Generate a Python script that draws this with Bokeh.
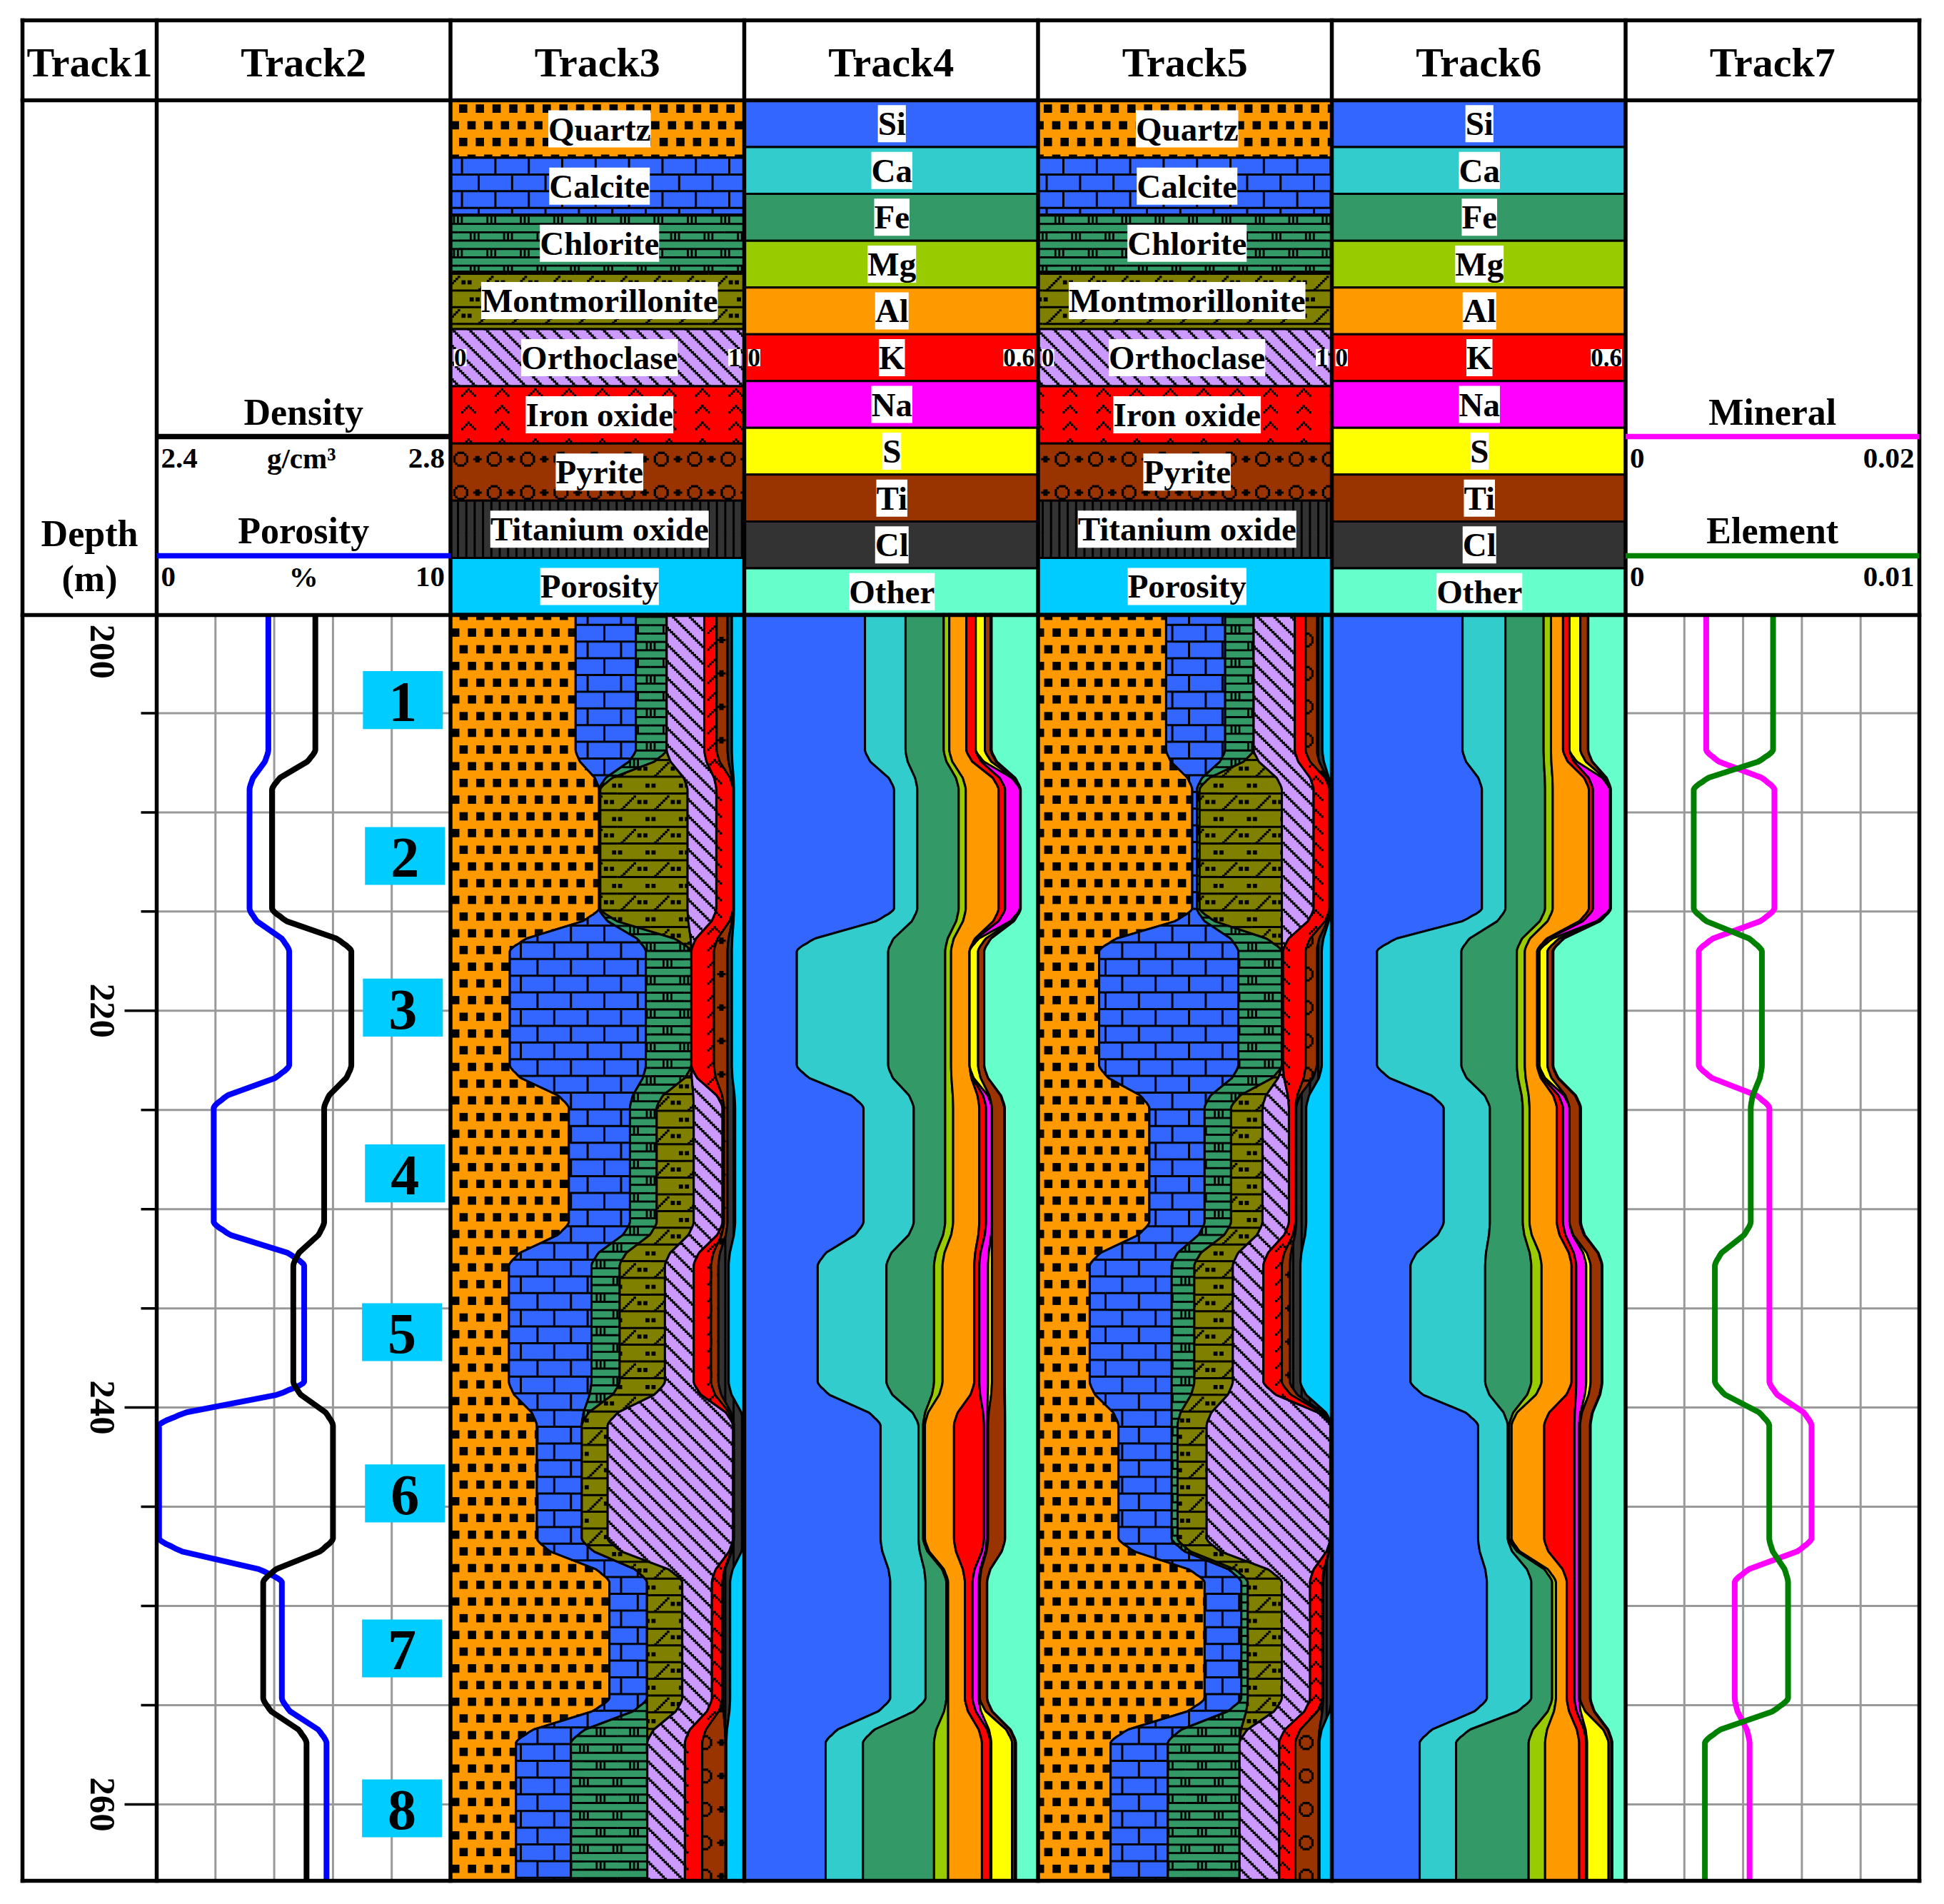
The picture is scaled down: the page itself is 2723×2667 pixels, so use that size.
import math
import numpy as np
from bokeh.plotting import figure
from bokeh.models import Range1d
from bokeh.core.properties import value
from bokeh.embed import file_html
from bokeh.resources import INLINE

# ---------- data (values per depth zone, cumulative fractions of the track) ----------
ZONE_NAMES = ["1", "2", "3", "4", "5", "6", "7", "8"]
ZONE_CENTER_DEPTH = [204.34, 212.2, 219.84, 228.2, 236.2, 244.33, 252.14, 260.2]
ZONE_BOX_X = [8.38, 8.45, 8.38, 8.45, 8.35, 8.45, 8.35, 8.35]
TRANSITIONS = [(206.85, 208.85), (214.85, 217.0), (222.75, 224.9), (230.65, 232.85),
               (238.7, 240.9), (246.6, 248.8), (254.65, 256.9)]
TOP_DEPTH = 200.0
BOTTOM_DEPTH = 263.85

POROSITY = [3.80, 3.16, 4.51, 1.94, 5.02, 0.08, 4.26, 5.78]
DENSITY = [2.616, 2.557, 2.665, 2.628, 2.586, 2.640, 2.545, 2.604]
MINERAL = [.00549, .01013, .00498, .00979, .00979, .01266, .00743, .00844]
ELEMENT = [.00502, .00232, .00464, .00426, .00304, .00489, .00553, .00270]

T3_QUARTZ = [.426, .506, .202, .403, .199, .294, .541, .223]
T3_CALCITE = [.631, .506, .665, .611, .480, .447, .669, .410]
T3_CHLORITE = [.736, .510, .820, .702, .576, .447, .669, .670]
T3_MONT = [.736, .807, .820, .828, .730, .535, .789, .670]
T3_ORTH = [.864, .905, .820, .926, .828, .962, .890, .798]
T3_IRON = [.906, .962, .897, .931, .887, .962, .926, .857]
T3_PYRITE = [.943, .962, .943, .943, .912, .965, .928, .936]
T3_TI = [.958, .965, .958, .969, .947, 1.0, .952, .939]

T5_QUARTZ = [.436, .525, .208, .379, .176, .274, .567, .247]
T5_CALCITE = [.637, .541, .682, .567, .455, .455, .692, .442]
T5_CHLORITE = [.734, .550, .830, .657, .532, .475, .714, .686]
T5_MONT = [.734, .830, .830, .764, .663, .574, .830, .686]
T5_ORTH = [.874, .938, .834, .854, .767, .995, .926, .821]
T5_IRON = [.911, .992, .911, .876, .830, .995, .968, .876]
T5_PYRITE = [.949, .993, .949, .879, .857, .996, .971, .955]
T5_TI = [.968, .995, .966, .913, .893, 1.0, 1.0, .958]

T4_SI = [.411, .510, .179, .406, .250, .464, .497, .277]
T4_CA = [.549, .589, .490, .577, .484, .593, .617, .404]
T4_FE = [.679, .730, .684, .684, .646, .609, .688, .646]
T4_MG = [.698, .754, .704, .711, .675, .615, .694, .694]
T4_AL = [.756, .866, .767, .800, .783, .714, .751, .809]
T4_K = [.788, .888, .767, .823, .800, .816, .777, .838]
T4_NA = [.788, .938, .767, .843, .830, .826, .798, .841]
T4_S = [.819, .938, .796, .843, .843, .830, .802, .912]
T4_TI = [.839, .939, .817, .885, .885, .888, .826, .922]
T4_CL = [.842, .941, .817, .887, .887, .888, .827, .925]

T6_SI = [.445, .511, .154, .381, .268, .498, .528, .299]
T6_CA = [.591, .591, .441, .538, .522, .599, .679, .423]
T6_FE = [.721, .726, .630, .650, .679, .604, .750, .670]
T6_MG = [.746, .752, .657, .673, .714, .612, .763, .726]
T6_AL = [.787, .875, .699, .766, .816, .723, .800, .842]
T6_K = [.809, .889, .703, .787, .832, .826, .826, .866]
T6_NA = [.809, .946, .707, .809, .866, .842, .842, .869]
T6_S = [.846, .947, .734, .809, .881, .845, .845, .942]
T6_TI = [.872, .948, .752, .845, .919, .879, .879, .952]
T6_CL = [.873, .950, .754, .848, .921, .881, .881, .955]

MINERAL_NAMES = ["Quartz", "Calcite", "Chlorite", "Montmorillonite", "Orthoclase",
                 "Iron oxide", "Pyrite", "Titanium oxide", "Porosity"]
MINERAL_COLORS = ["#FF9900", "#3366FF", "#339966", "#808000", "#CC99FF",
                  "#FF0000", "#993300", "#333333", "#00CCFF"]
ELEMENT_NAMES = ["Si", "Ca", "Fe", "Mg", "Al", "K", "Na", "S", "Ti", "Cl", "Other"]
ELEMENT_COLORS = ["#3366FF", "#33CCCC", "#339966", "#99CC00", "#FF9900", "#FF0000",
                  "#FF00FF", "#FFFF00", "#993300", "#333333", "#66FFCC"]
TRACK_TITLES = ["Track1", "Track2", "Track3", "Track4", "Track5", "Track6", "Track7"]
DEPTH_LABELS = ["200", "220", "240", "260"]
DEPTH_LABEL_POS = [201.9, 220, 240, 260]
DEPTH_TICKS = [205, 210, 215, 220, 225, 230, 235, 240, 245, 250, 255, 260]
GRID_V = [2, 4, 6, 8]

# ---------- layout (image pixels) ----------
W, H = 2707, 2651
TX = [31, 219, 630.5, 1042, 1453.5, 1865, 2276.5, 2688]
Y_TOP, Y_HEAD, Y_DATA, Y_BOT = 28, 140, 861, 2634
DEPTH_Y0 = 859.5
PX_PER_M = 27.79
LEFT, RIGHT = 0, W
TOP, BOTTOM = 0, H

p = figure(width=W, height=H, output_backend="svg", toolbar_location=None,
           x_range=Range1d(LEFT, RIGHT), y_range=Range1d(BOTTOM, TOP),
           x_axis_location=None, y_axis_location=None, min_border=0,
           outline_line_color=None, background_fill_color="white")
p.grid.visible = False


def xrange_for(i, v0, v1):
    l, r = TX[i], TX[i + 1]
    k = (v1 - v0) / (r - l)
    return Range1d(v0 + (LEFT - l) * k, v0 + (RIGHT - l) * k)


p.extra_x_ranges = {
    "t2": xrange_for(1, 0, 10), "density": xrange_for(1, 2.4, 2.8),
    "t3": xrange_for(2, 0, 1), "t4": xrange_for(3, 0, 1),
    "t5": xrange_for(4, 0, 1), "t6": xrange_for(5, 0, 1),
    "mineral": xrange_for(6, 0, .02), "element": xrange_for(6, 0, .01),
    "t7": xrange_for(6, 0, 10),
}
p.extra_y_ranges = {"depth": Range1d(200 + (BOTTOM - DEPTH_Y0) / PX_PER_M, 200 + (TOP - DEPTH_Y0) / PX_PER_M)}

# bend profile of the rounded step between zones (drawing style of the curves)
BEND_T = [0, .04, .08, .13, .18, .24, .3, .7, .76, .82, .87, .92, .96, 1]
BEND_F = [0, .01, .03, .06, .10, .14, .19, .81, .86, .90, .94, .97, .99, 1]


def curve(z):
    d, v = [TOP_DEPTH], [z[0]]
    for i, (a, b) in enumerate(TRANSITIONS):
        for t, f in zip(BEND_T, BEND_F):
            d.append(a + t * (b - a))
            v.append(z[i] + f * (z[i + 1] - z[i]))
    d.append(BOTTOM_DEPTH)
    v.append(z[-1])
    return d, v


# ---------- hatch textures, built from small black rectangles ----------
P, HP, QP, U = 46.8, 23.4, 11.7, 2.925


def build_prims():
    pr = {}
    pr["quartz"] = [(x - 5.8, y - 5.8, 11.6, 11.6) for x, y in
                    [(0, 0), (HP, 0), (-QP, HP), (QP, HP)]]
    pr["calcite"] = [(0, -1.5, P, 3), (0, HP - 1.5, P, 3), (-1.5, -HP, 3, HP), (HP - 1.5, 0, 3, HP)]
    chl = [(0, k * QP + 5.85 - 1.45, P, 2.9) for k in range(4)]
    for cx, cy in ((0, 0), (HP, HP)):
        for d in (-5.5, 0, 5.5):
            chl.append((cx + d - 1.4, cy - 5, 2.8, 10))
    pr["chlorite"] = chl
    mont = [(0, 10.9 - 1.5, P, 3), (0, 34.3 - 1.5, P, 3)]
    for cx, cy in ((0, 0), (-11.4, 22.9)):
        for d in (-4.2, 4.2):
            mont.append((cx + d - 2.9, cy - 2.9, 5.8, 5.8))
    for k in range(7):
        mont.append((5.4 + k * U - .2, 31.2 - k * U, 1.3 * U, U + .3))
    pr["mont"] = mont
    orth = []
    for k in range(16):
        orth.append((k * U, k * U, 1.5 * U, U + .3))
        orth.append((k * U + HP, k * U, 1.5 * U, U + .3))
    pr["orth"] = orth
    iron = []
    for y0 in (0, HP):
        for k in range(4):
            iron.append((k * U - U / 2, y0 + k * U, U + .3, U + .3))
            iron.append((-k * U - U / 2, y0 + k * U, U + .3, U + .3))
    pr["iron"] = iron
    pyr = [(-6, -1.5, 12, 3), (-3, -4.5, 6, 9)]
    cx = HP
    pyr += [(cx - 5, -10.5, 10, 3.3), (cx - 5, 7.2, 10, 3.3), (cx - 10.5, -5, 3.3, 10), (cx + 7.2, -5, 3.3, 10),
            (cx - 8, -8, 3.4, 3.4), (cx + 4.6, -8, 3.4, 3.4), (cx - 8, 4.6, 3.4, 3.4), (cx + 4.6, 4.6, 3.4, 3.4)]
    pr["pyrite"] = pyr
    pr["ti"] = [(k * QP - 1.5, 0, 3, P) for k in range(4)]
    return pr


PRIMS = build_prims()
ANCHOR_CURVE = {"quartz": (660.6, 885.6), "calcite": (846, 898.2), "chlorite": (911, 904.5),
                "mont": (863.9, 1146.8), "orth": (78, 0), "iron": (672.7, 548),
                "pyrite": (1010, 896), "ti": (641, 0)}
ANCHOR_LEGEND = {"quartz": (660, 175), "calcite": (670, 267.3), "chlorite": (687.7, 307.3),
                 "mont": (664.4, 372.1), "orth": (195, 0), "iron": (655.7, 543.3),
                 "pyrite": (668.3, 642.7), "ti": (641, 0)}
HATCH_KEYS = ["quartz", "calcite", "chlorite", "mont", "orth", "iron", "pyrite", "ti", None]


def hatch_rects(key, anchor, box, L, R):
    xl, xr, yt, yb = box
    ax, ay = anchor
    out = ([], [], [], [])

    def add(a, b, c, d):
        out[0].append(round(a, 2)); out[1].append(round(b, 2)); out[2].append(round(c, 2)); out[3].append(round(d, 2))

    for i in range(math.floor((xl - ax) / P) - 2, math.ceil((xr - ax) / P) + 2):
        for j in range(math.floor((yt - ay) / P) - 2, math.ceil((yb - ay) / P) + 2):
            for px, py, w, h in PRIMS[key]:
                x0 = ax + i * P + px
                x1 = x0 + w
                if x1 <= xl or x0 >= xr:
                    continue
                y0 = max(ay + j * P + py, yt)
                y1 = min(ay + j * P + py + h, yb)
                if y1 <= y0:
                    continue
                lo = L[int(y0):int(y1) + 2]
                hi = R[int(y0):int(y1) + 2]
                if x0 >= lo.max() and x1 <= hi.min():
                    add(x0, x1, y0, y1)
                elif x1 <= lo.min() or x0 >= hi.max():
                    continue
                else:
                    y = y0
                    while y < y1:
                        y2 = min(y + 2, y1)
                        k = int((y + y2) / 2)
                        a, b = max(x0, L[k]), min(x1, R[k])
                        if b > a:
                            add(a, b, y, min(y2 + .3, y1))
                        y = y2
    return out


def draw_hatch(rects):
    if rects[0]:
        p.quad(left=rects[0], right=rects[1], top=rects[2], bottom=rects[3],
               fill_color="black", line_color=None)


# ---------- headers: legend rows ----------
BOLD = dict(text_font=value("Liberation Serif"), text_font_style="bold", text_color="black")
BASE_K = 0.33


def label(x, y, txt, size, align="center", mid=False, **kw):
    yy = y if mid else y - BASE_K * size
    p.text([x], [yy], text=[txt], text_font_size=value(f"{size}px"), text_align=align,
           text_baseline="middle", **BOLD, **kw)


IMG_H = H + 60


def mineral_legend(i):
    l, r = TX[i], TX[i + 1]
    step = (Y_DATA - Y_HEAD) / len(MINERAL_NAMES)
    Lc, Rc = np.full(IMG_H, float(l)), np.full(IMG_H, float(r))
    for k, (name, col, key) in enumerate(zip(MINERAL_NAMES, MINERAL_COLORS, HATCH_KEYS)):
        t, b = Y_HEAD + k * step, Y_HEAD + (k + 1) * step
        p.quad(left=[l], right=[r], top=[t], bottom=[b], fill_color=col, line_color=None)
        if key:
            draw_hatch(hatch_rects(key, ANCHOR_LEGEND[key], (l, r, t, b), Lc, Rc))
        p.quad(left=[l], right=[r], top=[t], bottom=[b], fill_color=None, line_color="black", line_width=3)
    for k, name in enumerate(MINERAL_NAMES):
        label((l + r) / 2 + 3, Y_HEAD + (k + .5) * step, name, 47, mid=True, background_fill_color="white")
    m = Y_HEAD + 4.5 * step
    label(l + 5, m, "0", 35, align="left", mid=True, background_fill_color="white")
    label(r - 5, m, "1", 35, align="right", mid=True, background_fill_color="white")


def element_legend(i):
    l, r = TX[i], TX[i + 1]
    step = (Y_DATA - Y_HEAD) / len(ELEMENT_NAMES)
    for k, (name, col) in enumerate(zip(ELEMENT_NAMES, ELEMENT_COLORS)):
        p.quad(left=[l], right=[r], top=[Y_HEAD + k * step], bottom=[Y_HEAD + (k + 1) * step],
               fill_color=col, line_color="black", line_width=3)
    for k, name in enumerate(ELEMENT_NAMES):
        label((l + r) / 2 + 1, Y_HEAD + (k + .5) * step, name, 47, mid=True, background_fill_color="white")
    m = Y_HEAD + 5.5 * step
    label(l + 5, m, "0", 35, align="left", mid=True, background_fill_color="white")
    label(r - 5, m, "0.6", 35, align="right", mid=True, background_fill_color="white")


mineral_legend(2)
element_legend(3)
mineral_legend(4)
element_legend(5)


# ---------- stacks ----------
def stack(i, range_name, bounds, colors, keys):
    prev = None
    l, r = TX[i], TX[i + 1]
    ys_px = np.arange(IMG_H, dtype=float)
    dep = 200 + (ys_px - DEPTH_Y0) / PX_PER_M
    for b, col, key in zip(bounds, colors, keys):
        d, v = curve(b)
        left = prev if prev else [0.0] * len(v)
        p.patch(left + v[::-1], d + d[::-1], fill_color=col, line_color="black",
                line_width=3, line_join="round", x_range_name=range_name, y_range_name="depth")
        if key:
            Lp = l + np.interp(dep, d, left) * (r - l)
            Rp = l + np.interp(dep, d, v) * (r - l)
            draw_hatch(hatch_rects(key, ANCHOR_CURVE[key], (l, r, Y_DATA, Y_BOT), Lp, Rp))
        prev = v


ONES = [1.0] * 8
stack(2, "t3", [T3_QUARTZ, T3_CALCITE, T3_CHLORITE, T3_MONT, T3_ORTH, T3_IRON, T3_PYRITE, T3_TI, ONES],
      MINERAL_COLORS, HATCH_KEYS)
stack(4, "t5", [T5_QUARTZ, T5_CALCITE, T5_CHLORITE, T5_MONT, T5_ORTH, T5_IRON, T5_PYRITE, T5_TI, ONES],
      MINERAL_COLORS, HATCH_KEYS)
NOH = [None] * 11
stack(3, "t4", [T4_SI, T4_CA, T4_FE, T4_MG, T4_AL, T4_K, T4_NA, T4_S, T4_TI, T4_CL, ONES], ELEMENT_COLORS, NOH)
stack(5, "t6", [T6_SI, T6_CA, T6_FE, T6_MG, T6_AL, T6_K, T6_NA, T6_S, T6_TI, T6_CL, ONES], ELEMENT_COLORS, NOH)

# ---------- grids ----------
GRID = dict(line_color="#999999", line_width=3, y_range_name="depth")
for rng in ("t2", "t7"):
    p.segment(x0=GRID_V, x1=GRID_V, y0=[TOP_DEPTH] * 4, y1=[BOTTOM_DEPTH] * 4, x_range_name=rng, **GRID)
    p.segment(x0=[0] * len(DEPTH_TICKS), x1=[10] * len(DEPTH_TICKS), y0=DEPTH_TICKS, y1=DEPTH_TICKS,
              x_range_name=rng, **GRID)

# depth ticks (track 1)
tick_left = [TX[1] - (45 if t % 20 == 0 else 22) for t in DEPTH_TICKS]
p.segment(x0=tick_left, x1=[TX[1]] * len(DEPTH_TICKS), y0=DEPTH_TICKS, y1=DEPTH_TICKS,
          line_color="black", line_width=3.5, y_range_name="depth")
p.text([126 + BASE_K * 51] * 4, DEPTH_LABEL_POS, text=DEPTH_LABELS, angle=[-1.5708] * 4, text_align="center",
       text_baseline="middle", text_font_size=value("51px"), y_range_name="depth", **BOLD)

# zone boxes
p.rect(ZONE_BOX_X, ZONE_CENTER_DEPTH, width=[2.72] * 8, height=[2.92] * 8, fill_color="#00CCFF",
       line_color=None, x_range_name="t2", y_range_name="depth")
p.text(ZONE_BOX_X, [d + .1 for d in ZONE_CENTER_DEPTH], text=ZONE_NAMES, text_align="center",
       text_baseline="middle", text_font_size=value("80px"), x_range_name="t2", y_range_name="depth", **BOLD)

# ---------- log curves ----------
for rng, z, col in (("t2", POROSITY, "#0000FF"), ("density", DENSITY, "#000000"),
                    ("mineral", MINERAL, "#FF00FF"), ("element", ELEMENT, "#008000")):
    d, v = curve(z)
    p.line(v, d, line_color=col, line_width=8, line_join="round", x_range_name=rng, y_range_name="depth")

# ---------- frame ----------
xs = [[x, x] for x in TX] + [[TX[0], TX[-1]] for _ in (Y_TOP, Y_HEAD, Y_DATA, Y_BOT)]
ys = [[Y_TOP, Y_BOT] for _ in TX] + [[y, y] for y in (Y_TOP, Y_HEAD, Y_DATA, Y_BOT)]
p.multi_line(xs, ys, line_color="black", line_width=5.5, line_cap="square")

for t, l, r in zip(TRACK_TITLES, TX[:-1], TX[1:]):
    label((l + r) / 2, 106, t, 58)

c2 = (TX[1] + TX[2]) / 2
c7 = (TX[6] + TX[7]) / 2
p.segment(x0=[TX[1], TX[1], TX[6], TX[6]], x1=[TX[2], TX[2], TX[7], TX[7]],
          y0=[611, 778, 611, 778], y1=[611, 778, 611, 778],
          line_color=["black", "#0000FF", "#FF00FF", "#008000"], line_width=7.5)
label(c2, 594, "Density", 52)
label(TX[1] + 6, 655, "2.4", 41, align="left")
label(c2 - 3, 655, "g/cm³", 41)
label(TX[2] - 8, 655, "2.8", 41, align="right")
label(c2, 760, "Porosity", 52)
label(TX[1] + 6, 821, "0", 41, align="left")
label(c2, 821, "%", 41)
label(TX[2] - 8, 821, "10", 41, align="right")
label(c7, 594, "Mineral", 52)
label(TX[6] + 6, 655, "0", 41, align="left")
label(TX[7] - 7, 655, "0.02", 41, align="right")
label(c7, 760, "Element", 52)
label(TX[6] + 6, 821, "0", 41, align="left")
label(TX[7] - 7, 821, "0.01", 41, align="right")
label(125, 764, "Depth", 52)
label(125, 827, "(m)", 52)

open("out.html", "w").write(file_html(p, INLINE))
